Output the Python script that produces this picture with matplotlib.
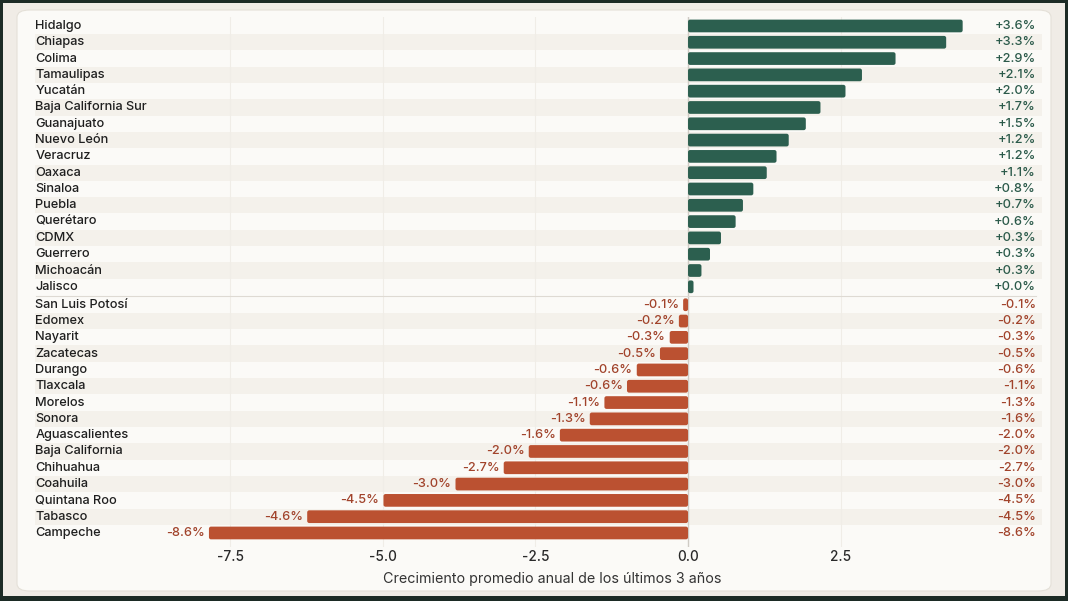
import numpy as np
import matplotlib
matplotlib.use("Agg")
import matplotlib.pyplot as plt
from matplotlib.patches import FancyBboxPatch, Rectangle

plt.rcParams["font.family"] = ["Inter", "DejaVu Sans"]
plt.rcParams["axes.unicode_minus"] = False

# --- data ------------------------------------------------------------------
pos_states = ["Hidalgo", "Chiapas", "Colima", "Tamaulipas", "Yucatán",
              "Baja California Sur", "Guanajuato", "Nuevo León", "Veracruz",
              "Oaxaca", "Sinaloa", "Puebla", "Querétaro", "CDMX", "Guerrero",
              "Michoacán", "Jalisco"]
pos_bars = [4.50, 4.23, 3.40, 2.85, 2.58, 2.17, 1.93, 1.65, 1.45, 1.29,
            1.07, 0.90, 0.78, 0.54, 0.36, 0.22, 0.09]
pos_right = ["+3.6%", "+3.3%", "+2.9%", "+2.1%", "+2.0%", "+1.7%", "+1.5%",
             "+1.2%", "+1.2%", "+1.1%", "+0.8%", "+0.7%", "+0.6%", "+0.3%",
             "+0.3%", "+0.3%", "+0.0%"]

neg_states = ["San Luis Potosí", "Edomex", "Nayarit", "Zacatecas", "Durango",
              "Tlaxcala", "Morelos", "Sonora", "Aguascalientes",
              "Baja California", "Chihuahua", "Coahuila", "Quintana Roo",
              "Tabasco", "Campeche"]
neg_bars = [-0.08, -0.15, -0.30, -0.46, -0.84, -1.00, -1.37, -1.61, -2.10,
            -2.61, -3.02, -3.81, -4.99, -6.24, -7.85]
neg_inline = ["-0.1%", "-0.2%", "-0.3%", "-0.5%", "-0.6%", "-0.6%", "-1.1%",
              "-1.3%", "-1.6%", "-2.0%", "-2.7%", "-3.0%", "-4.5%", "-4.6%",
              "-8.6%"]
neg_right = ["-0.1%", "-0.2%", "-0.3%", "-0.5%", "-0.6%", "-1.1%", "-1.3%",
             "-1.6%", "-2.0%", "-2.0%", "-2.7%", "-3.0%", "-4.5%", "-4.5%",
             "-8.6%"]

x_ticks = [-7.5, -5.0, -2.5, 0.0, 2.5]
x_label = "Crecimiento promedio anual de los últimos 3 años"

# --- styling ---------------------------------------------------------------
GREEN = "#2c5f4f"
RUST = "#bb5131"
GREEN_TXT = "#2b5a4a"
RUST_TXT = "#a1432b"
CARD = "#fbfaf7"
STRIPE = "#f4f1eb"
TEXT = "#1f1f1f"
FS = 9.2

W, H = 1068, 601
fig = plt.figure(figsize=(W / 100, H / 100), dpi=100)
fig.patch.set_facecolor("#1c2b25")

# light margin + rounded card behind the chart
fig.patches.append(Rectangle((3 / W, 5 / H), 1062 / W, 593 / H,
                             transform=fig.transFigure, facecolor="#f0ece6",
                             edgecolor="none", zorder=-2))
fig.patches.append(FancyBboxPatch((17 / W, 10 / H), 1034 / W, 581 / H,
                                  boxstyle="round,pad=0,rounding_size=0.012",
                                  transform=fig.transFigure, facecolor=CARD,
                                  edgecolor="#e4e0d8", linewidth=0.8, zorder=-1))

ax = fig.add_axes([35 / W, 1 - 547 / H, 1007 / W, 530 / H])
ax.set_facecolor("none")

gap = 0.1
y_pos = np.arange(len(pos_states))
y_neg = np.arange(len(neg_states)) + len(pos_states) + gap

x0, x1 = -10.70, 5.80
ax.set_xlim(x0, x1)
ax.set_ylim(y_neg[-1] + 0.86, -0.55)

# alternating row stripes, restarting in each group
for ys in (y_pos, y_neg):
    for i, y in enumerate(ys):
        if i % 2 == 1:
            ax.axhspan(y - 0.5, y + 0.5, color=STRIPE, lw=0, zorder=0)

for t in x_ticks:
    if t != 0:
        ax.axvline(t, color="#f0ede7", lw=0.8, zorder=0.5)
ax.axvline(0, color="#cfcbc4", lw=1.0, zorder=1)
ax.plot([x0 + 0.02, x1 - 0.1], [len(pos_states) - 0.45] * 2,
        color="#dedad3", lw=0.8, zorder=1)

# bars via barh, then swapped for rounded patches of the same geometry
bars = list(ax.barh(y_pos, pos_bars, height=0.78, color=GREEN, zorder=2))
bars += list(ax.barh(y_neg, neg_bars, height=0.78, color=RUST, zorder=2))
for r in bars:
    x, y = r.get_x(), r.get_y()
    w, h = r.get_width(), r.get_height()
    if w < 0:
        x, w = x + w, -w
    rr = min(0.035, w / 2)
    ax.add_patch(FancyBboxPatch((x, y), w, h,
                                boxstyle=f"round,pad=0,rounding_size={rr}",
                                mutation_aspect=3.6, facecolor=r.get_facecolor(),
                                edgecolor="none", zorder=2))
    r.set_visible(False)

for y, s in zip(np.concatenate([y_pos, y_neg]), pos_states + neg_states):
    ax.text(x0 + 0.005, y, s, ha="left", va="center", fontsize=FS,
            color=TEXT, weight="medium", zorder=3)

for y, v, s in zip(y_neg, neg_bars, neg_inline):
    ax.text(v - 0.07, y, s, ha="right", va="center", fontsize=FS,
            color=RUST_TXT, weight="medium", zorder=3)

for y, s in zip(y_pos, pos_right):
    ax.text(x1 - 0.1, y, s, ha="right", va="center", fontsize=FS,
            color=GREEN_TXT, weight="medium", zorder=3)
for y, s in zip(y_neg, neg_right):
    ax.text(x1 - 0.1, y, s, ha="right", va="center", fontsize=FS,
            color=RUST_TXT, weight="medium", zorder=3)

ax.set_xticks(x_ticks)
ax.set_xticklabels([f"{t:.1f}" for t in x_ticks], weight="medium")
ax.tick_params(axis="x", length=0, pad=2, labelsize=9.8, labelcolor="#2a2a2a")
ax.set_yticks([])
for sp in ax.spines.values():
    sp.set_visible(False)
ax.set_xlabel(x_label, fontsize=10.3, color="#333333")
ax.xaxis.set_label_coords((552 - 35) / 1007, -0.06)
ax.xaxis.label.set_va("center")

fig.savefig("out.png", dpi=100, facecolor=fig.get_facecolor())
